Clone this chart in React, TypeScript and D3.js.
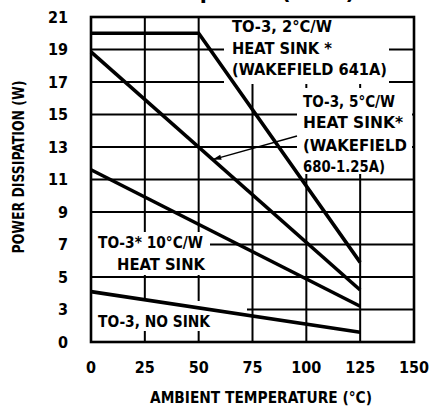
import * as d3 from "d3";

// ambient temperature ticks (°C) and power ticks (W)
const tempTicks = [0, 25, 50, 75, 100, 125, 150];
const powerTicks = [1, 3, 5, 7, 9, 11, 13, 15, 17, 19, 21];
const powerTickLabels = ["0", "3", "5", "7", "9", "11", "13", "15", "17", "19", "21"];

// derating curves
const sink2Temp = [0, 50, 125];
const sink2Power = [20, 20, 5.9];
const sink5Temp = [0, 125];
const sink5Power = [18.85, 4.2];
const sink10Temp = [0, 125];
const sink10Power = [11.6, 3.2];
const noSinkTemp = [0, 125];
const noSinkPower = [4.1, 1.6];

const W = 435;
const H = 408;
const FONT = "'Liberation Sans Narrow', 'DejaVu Sans Condensed', 'Roboto', sans-serif";

const x = d3.scaleLinear().domain([0, 150]).range([91, 414]);
const y = d3.scaleLinear().domain([1, 21]).range([342, 17]);

type Pt = [number, number];
const zip = (t: number[], p: number[]): Pt[] => t.map((v, i) => [v, p[i]]);

const line = d3
  .line<Pt>()
  .x((d) => x(d[0]))
  .y((d) => y(d[1]));

const series = [
  zip(sink2Temp, sink2Power),
  zip(sink5Temp, sink5Power),
  zip(sink10Temp, sink10Power),
  zip(noSinkTemp, noSinkPower),
];

// white boxes behind the labels that cut the grid
const masks = [
  { x0: 224, y0: 17, x1: 389, y1: 84 },
  { x0: 297, y0: 88, x1: 412, y1: 174 },
  { x0: 92, y0: 232, x1: 210, y1: 275 },
  { x0: 92, y0: 301, x1: 247, y1: 331 },
];

const labels = [
  { text: "TO-3, 2°C/W", x: 232, y: 32, w: 100 },
  { text: "HEAT SINK *", x: 232, y: 54, w: 100 },
  { text: "(WAKEFIELD 641A)", x: 232, y: 75, w: 155 },
  { text: "TO-3, 5°C/W", x: 303, y: 107, w: 92 },
  { text: "HEAT SINK*", x: 303, y: 128, w: 100 },
  { text: "(WAKEFIELD", x: 303, y: 151, w: 104 },
  { text: "680-1.25A)", x: 303, y: 172, w: 82 },
  { text: "TO-3* 10°C/W", x: 98, y: 248, w: 105 },
  { text: "HEAT SINK", x: 117, y: 270, w: 88 },
  { text: "TO-3, NO SINK", x: 98, y: 327, w: 112 },
];

export default function App() {
  const sink5 = d3.scaleLinear().domain(sink5Temp).range(sink5Power);
  const tip: Pt = [x(56.5), y(sink5(56.5))];
  const tail: Pt = [297, 136];
  const ang = Math.atan2(tail[1] - tip[1], tail[0] - tip[0]);
  const head = [
    tip,
    [tip[0] + 9 * Math.cos(ang - 0.3), tip[1] + 9 * Math.sin(ang - 0.3)],
    [tip[0] + 9 * Math.cos(ang + 0.3), tip[1] + 9 * Math.sin(ang + 0.3)],
  ];

  return (
    <svg
      width={W}
      height={H}
      style={{ position: "absolute", left: 0, top: 0, background: "#fff" }}
      fontFamily={FONT}
      fontWeight={700}
    >
      <rect width={W} height={H} fill="#fff" />

      {/* title, cropped at the top edge as in the source */}
      <text x={-55} y={-1} fontSize={22} textLength={410} lengthAdjust="spacingAndGlyphs">
        Maximum Power Dissipation (TO-3)
      </text>

      {/* grid */}
      <g stroke="#000" strokeWidth={2}>
        {tempTicks.map((t) => (
          <line key={"v" + t} x1={x(t)} x2={x(t)} y1={y(21)} y2={y(1)} />
        ))}
        {powerTicks.map((p) => (
          <line key={"h" + p} x1={x(0)} x2={x(150)} y1={y(p)} y2={y(p)} />
        ))}
      </g>

      {masks.map((m, i) => (
        <rect key={i} x={m.x0} y={m.y0} width={m.x1 - m.x0} height={m.y1 - m.y0} fill="#fff" />
      ))}

      {/* curves */}
      <g fill="none" stroke="#000" strokeWidth={3.6} strokeLinejoin="miter">
        {series.map((s, i) => (
          <path key={i} d={line(s) ?? ""} />
        ))}
      </g>

      <rect
        x={x(0)}
        y={y(21)}
        width={x(150) - x(0)}
        height={y(1) - y(21)}
        fill="none"
        stroke="#000"
        strokeWidth={2.6}
      />

      {/* arrow to the 5°C/W curve */}
      <line x1={tail[0]} y1={tail[1]} x2={tip[0]} y2={tip[1]} stroke="#000" strokeWidth={1.3} />
      <path d={d3.line()(head as [number, number][]) + "Z"} fill="#000" />

      {/* tick labels */}
      <g fontSize={16}>
        {powerTicks.map((p, i) => (
          <text key={p} x={68} y={y(p)} dy="0.36em" textAnchor="end">
            {powerTickLabels[i]}
          </text>
        ))}
        {tempTicks.map((t) => (
          <text key={t} x={x(t)} y={373} textAnchor="middle">
            {t}
          </text>
        ))}
      </g>

      <text x={261} y={403} fontSize={16} textAnchor="middle" textLength={222} lengthAdjust="spacingAndGlyphs">
        AMBIENT TEMPERATURE (°C)
      </text>
      <text
        transform="translate(24,167) rotate(-90)"
        fontSize={16}
        textAnchor="middle"
        textLength={173}
        lengthAdjust="spacingAndGlyphs"
      >
        POWER DISSIPATION (W)
      </text>

      {/* curve labels */}
      <g fontSize={16}>
        {labels.map((l) => (
          <text key={l.text} x={l.x} y={l.y} textLength={l.w} lengthAdjust="spacingAndGlyphs">
            {l.text}
          </text>
        ))}
      </g>
    </svg>
  );
}
